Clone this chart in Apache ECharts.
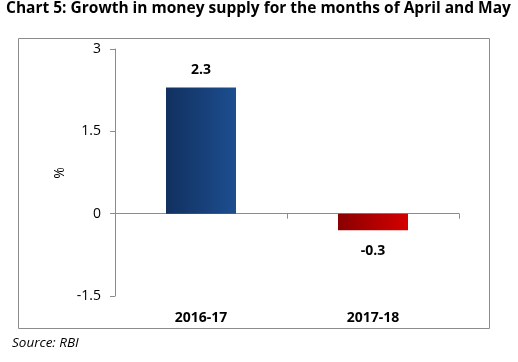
<!DOCTYPE html>
<html><head><meta charset="utf-8">
<script src="https://cdn.jsdelivr.net/npm/echarts@6/dist/echarts.min.js"></script>
<style>html,body{margin:0;padding:0;background:#fff}#c{width:518px;height:362px}</style>
</head><body><div id="c"></div>
<script>
const categories = ['2016-17', '2017-18'];
const values = [2.3, -0.3];
const yTicks = [-1.5, 0, 1.5, 3];
const title = 'Chart 5: Growth in money supply for the months of April and May';
const source = 'Source: RBI';

const chart = echarts.init(document.getElementById('c'), null, {renderer: 'canvas'});
const font = '"Open Sans", "Liberation Sans", sans-serif';
const blue = new echarts.graphic.LinearGradient(0, 0, 1, 0, [
  {offset: 0, color: '#11305f'}, {offset: 1, color: '#1d4e90'}]);
const red = new echarts.graphic.LinearGradient(0, 0, 1, 0, [
  {offset: 0, color: '#8a0000'}, {offset: 1, color: '#d40000'}]);
chart.setOption({
  animation: false,
  textStyle: {fontFamily: font},
  graphic: [
    {type: 'text', left: 6, top: 1, style: {text: title, font: 'bold 15.5px ' + font, fill: '#000'}},
    {type: 'rect', shape: {x: 18.5, y: 38.5, width: 471, height: 290}, style: {fill: 'none', stroke: '#8c8c8c', lineWidth: 1}},
    {type: 'text', left: 12, top: 336, style: {text: source, font: 'italic 13.5px ' + font, fill: '#000'}},
    {type: 'text', x: 60, y: 173, rotation: Math.PI / 2, style: {text: '%', font: '14px ' + font, fill: '#000', align: 'center', verticalAlign: 'middle'}}
  ],
  grid: {left: 115, right: 59, top: 49, bottom: 66},
  xAxis: [
    {type: 'category', data: categories, axisLine: {onZero: true, lineStyle: {color: '#8c8c8c'}},
     axisTick: {show: true, length: 5, lineStyle: {color: '#8c8c8c'}}, axisLabel: {show: false}},
    {type: 'category', data: categories, position: 'bottom', axisLine: {show: false, onZero: false}, axisTick: {show: false},
     axisLabel: {show: true, margin: 15, fontSize: 14, fontWeight: 'bold', color: '#000', fontFamily: font}}
  ],
  yAxis: {type: 'value', min: yTicks[0], max: yTicks[yTicks.length - 1], interval: 1.5,
    axisLine: {show: true, lineStyle: {color: '#8c8c8c'}},
    axisTick: {show: true, length: 5, lineStyle: {color: '#8c8c8c'}},
    splitLine: {show: false},
    axisLabel: {fontSize: 14, color: '#000', margin: 14, fontFamily: font}},
  series: [{
    type: 'bar', xAxisIndex: 0, barWidth: 70,
    data: values.map((v, i) => ({value: v, itemStyle: {color: v >= 0 ? blue : red},
      label: {distance: v >= 0 ? 10 : 14}})),
    label: {show: true, position: 'outside', fontSize: 14, fontWeight: 'bold', color: '#000', fontFamily: font,
      formatter: p => p.value.toFixed(1)}
  }]
});
</script></body></html>
